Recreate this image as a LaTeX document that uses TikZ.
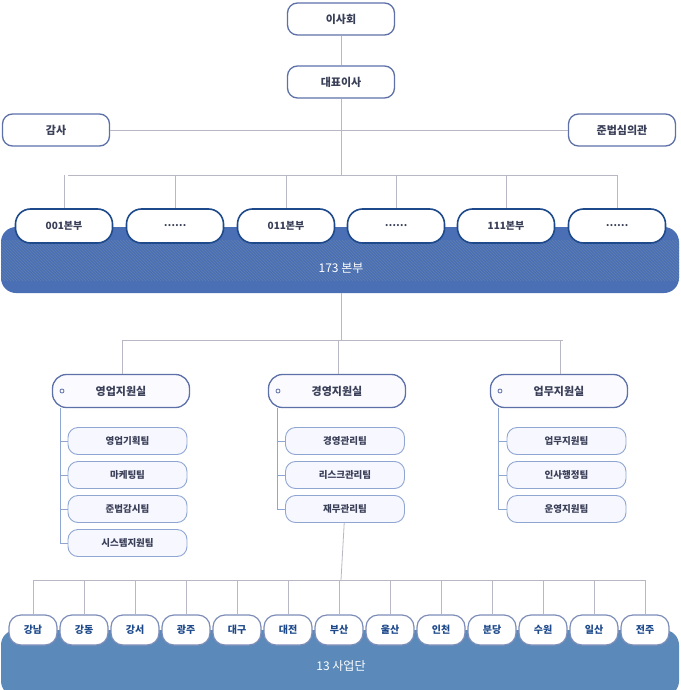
\documentclass[tikz,border=0pt]{standalone}
\usepackage{fontspec}
\setmainfont{Noto Sans CJK KR}
\usetikzlibrary{patterns}
\definecolor{bandA}{HTML}{4A6FB5}
\definecolor{bandB}{HTML}{5A89BA}
\definecolor{bord}{HTML}{5D70A8}
\definecolor{dark}{HTML}{1E4A8C}
\definecolor{txt}{HTML}{3A3F58}
\definecolor{lineg}{HTML}{B8B8C4}
\definecolor{lineb}{HTML}{8FA6D2}
\begin{document}
\begin{tikzpicture}[x=1pt,y=-1pt,
 top/.style={draw=bord,line width=1.3pt,fill=white,rounded corners=10pt,minimum width=107pt,minimum height=32pt,font=\bfseries\fontsize{11}{12}\selectfont,text=txt},
 hq/.style={draw=dark,line width=1.6pt,fill=white,rounded corners=15pt,minimum width=97pt,minimum height=34pt,font=\bfseries\fontsize{10}{12}\selectfont,text=txt},
 hdr/.style={draw=bord,line width=1.3pt,fill=blue!2,rounded corners=14pt,minimum width=137pt,minimum height=33pt,font=\bfseries\fontsize{11}{12}\selectfont,text=txt},
 sub/.style={draw=lineb,line width=0.9pt,fill=blue!3,rounded corners=10pt,minimum width=119pt,minimum height=27pt,font=\bfseries\fontsize{9.5}{11}\selectfont,text=txt},
 br/.style={draw=bord!80,line width=1.2pt,fill=white,rounded corners=12pt,minimum width=48pt,minimum height=30pt,font=\bfseries\fontsize{10}{12}\selectfont,text=dark},
 ln/.style={draw=lineg,line width=0.8pt},
 tl/.style={draw=lineb,line width=0.8pt}]
\useasboundingbox (0,0) rectangle (680,690);
% bands
\fill[bandA,rounded corners=15pt] (1,227) rectangle (679,293);
\fill[pattern=north west lines,pattern color=dark!70] (1,240) rectangle (679,280);
\fill[bandB,rounded corners=15pt] (1,630) rectangle (679,696);
\node[text=white,font=\fontsize{12}{14}\selectfont] (b173) at (341,268) {173 본부};
\node[text=white,font=\fontsize{12}{14}\selectfont] (b13) at (341,666) {13 사업단};
% top
\node[top] (board) at (341,19) {이사회};
\node[top] (ceo) at (341,82) {대표이사};
\node[top] (audit) at (56,130) {감사};
\node[top] (comp) at (622,130) {준법심의관};
\draw[ln] (board) -- (ceo);
\draw[ln] (audit) -- (comp);
\coordinate (h1) at (341,175);
\draw[ln] (ceo) -- (h1);
\draw[ln] (68,175) -- (617,175);
\foreach \x/\t/\n in {64/001본부/a,175/……/b,286/011본부/c,396/……/d,506/111본부/e,617/……/f}{
 \node[hq] (hq\n) at (\x,226) {\t};
 \draw[ln] (\x,175) -- (hq\n);
}
% middle
\coordinate (m1) at (341,340);
\draw[ln] (341,293) -- (m1);
\draw[ln] (122,340) -- (563,340);
\foreach \x/\t/\n in {121/영업지원실/a,337/경영지원실/b,559/업무지원실/c}{
 \node[hdr] (hd\n) at (\x,391) {\t};
 \draw[ln] (\x+1,340) -- (hd\n.north -| \x+1,0);
 \draw[bord,line width=0.8pt] (\x-59,391) circle (2pt);
}
\foreach \i/\t in {1/영업기획팀,2/마케팅팀,3/준법감시팀,4/시스템지원팀}{
 \node[sub] (sa\i) at (127.5,407+34*\i) {\t};
 \draw[tl] (60,407+34*\i) -- (sa\i.west);
}
\draw[tl] (60,408) -- (60,543);
\foreach \i/\t in {1/경영관리팀,2/리스크관리팀,3/재무관리팀}{
 \node[sub] (sb\i) at (345,407+34*\i) {\t};
 \draw[tl] (277,407+34*\i) -- (sb\i.west);
}
\draw[tl] (277,408) -- (277,509);
\foreach \i/\t in {1/업무지원팀,2/인사행정팀,3/운영지원팀}{
 \node[sub] (sc\i) at (566.5,407+34*\i) {\t};
 \draw[tl] (498,407+34*\i) -- (sc\i.west);
}
\draw[tl] (498,408) -- (498,509);
% bottom
\draw[ln] (sb3) -- (341,580);
\draw[ln] (33,580) -- (645,580);
\foreach \t [count=\i from 0] in {강남,강동,강서,광주,대구,대전,부산,울산,인천,분당,수원,일산,전주}{
 \pgfmathsetmacro\xx{33+51*\i}
 \node[br] (r\i) at (\xx,630) {\t};
 \draw[ln] (\xx,580) -- (r\i);
}
\end{tikzpicture}
\end{document}
